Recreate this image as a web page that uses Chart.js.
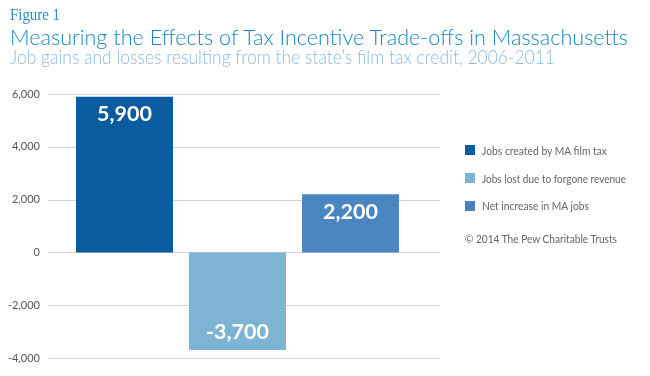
<!DOCTYPE html>
<html><head><meta charset="utf-8">
<script src="https://cdn.jsdelivr.net/npm/chart.js@4.4.0/dist/chart.umd.min.js"></script>
<style>
html,body{margin:0;padding:0;background:#fff;}
#wrap{position:relative;width:650px;height:376px;overflow:hidden;font-family:Lato,"Open Sans",sans-serif;}
canvas{position:absolute;left:0;top:0;}
.t{position:absolute;left:10px;white-space:nowrap;font-weight:300;transform-origin:0 0;line-height:1.2;}
#fig{top:6px;font-size:16.5px;color:#2a8cc4;font-family:"Liberation Serif","DejaVu Serif",serif;font-weight:400;line-height:1.1;}
#title{top:24px;font-size:22px;color:#1a87c2;}
#sub{top:45px;font-size:19.5px;color:#8cbbdc;}
.leg{position:absolute;left:465px;height:14px;display:flex;align-items:center;font-size:11px;color:#666;white-space:nowrap;}
.sw{display:block;width:10px;height:10px;margin-right:7px;flex:none;}
.lt{display:block;transform-origin:0 50%;}
</style></head>
<body><div id="wrap">
<canvas id="c" width="650" height="376"></canvas>
<div class="t" id="fig">Figure 1</div>
<div class="t" id="title">Measuring the Effects of Tax Incentive Trade-offs in Massachusetts</div>
<div class="t" id="sub">Job gains and losses resulting from the state’s film tax credit, 2006-2011</div>
<div id="legend"></div>
</div>
<script>
const categories = ['Jobs created by MA film tax', 'Jobs lost due to forgone revenue', 'Net increase in MA jobs'];
const values = [5900, -3700, 2200];
const valueLabels = ['5,900', '-3,700', '2,200'];
const yTicks = [-4000, -2000, 0, 2000, 4000, 6000];
const copyright = '© 2014 The Pew Charitable Trusts';

function fitWidth(el, w) {
  const r = el.getBoundingClientRect().width;
  if (r > 0) el.style.transform = 'scaleX(' + (w / r) + ')';
}

function hatch() {
  const p = document.createElement('canvas');
  p.width = 4; p.height = 4;
  const g = p.getContext('2d');
  g.fillStyle = '#4682bf'; g.fillRect(0,0,4,4);
  g.strokeStyle = '#5690c8'; g.lineWidth = 1;
  g.beginPath(); g.moveTo(0,4); g.lineTo(4,0); g.stroke();
  g.beginPath(); g.moveTo(-1,1); g.lineTo(1,-1); g.stroke();
  g.beginPath(); g.moveTo(3,5); g.lineTo(5,3); g.stroke();
  return document.getElementById('c').getContext('2d').createPattern(p,'repeat');
}
const colors = ['#0a5b9f', '#7db3d3', hatch()];
const legendColors = ['#0a5b9f', '#7db3d3', '#4682bf'];

const leg = document.getElementById('legend');
const legTops = [143, 171, 198.5];
const legWidths = [125, 144, 107];
categories.forEach((c,i)=>{
  const d = document.createElement('div'); d.className='leg'; d.style.top = legTops[i]+'px';
  d.innerHTML = '<span class="sw" style="background:'+legendColors[i]+'"></span><span class="lt">'+c+'</span>';
  leg.appendChild(d);
  fitWidth(d.querySelector('.lt'), legWidths[i]);
});
const cp = document.createElement('div'); cp.className='leg'; cp.style.top='231px'; cp.style.fontSize='11.5px';
cp.innerHTML = '<span class="lt">'+copyright+'</span>'; leg.appendChild(cp);
fitWidth(cp.querySelector('.lt'), 152);

fitWidth(document.getElementById('fig'), 50);
fitWidth(document.getElementById('title'), 618);
fitWidth(document.getElementById('sub'), 545);

const gridPlugin = {
  id: 'extGrid',
  beforeDatasetsDraw(chart) {
    const ctx = chart.ctx, ca = chart.chartArea, ys = chart.scales.y;
    ctx.save();
    ctx.strokeStyle = '#d4d4d4'; ctx.lineWidth = 1;
    yTicks.forEach(v => {
      const y = Math.round(ys.getPixelForValue(v)) + 0.5;
      ctx.beginPath(); ctx.moveTo(ca.left - 20, y); ctx.lineTo(ca.right + 33, y); ctx.stroke();
    });
    ctx.restore();
  }
};

const labelPlugin = {
  id: 'vlabels',
  afterDatasetsDraw(chart) {
    const ctx = chart.ctx;
    ctx.save();
    ctx.fillStyle = '#fff';
    ctx.font = 'bold 21.5px Lato, "Open Sans", sans-serif';
    ctx.textAlign = 'center'; ctx.textBaseline = 'middle';
    chart.getDatasetMeta(0).data.forEach((el,i)=>{
      const y = values[i] >= 0 ? el.y + 17.5 : el.y - 18;
      ctx.fillText(valueLabels[i], el.x, y);
    });
    ctx.restore();
  }
};

new Chart(document.getElementById('c'), {
  type: 'bar',
  data: { labels: categories, datasets: [{
    data: values, backgroundColor: colors, borderWidth: 0,
    barPercentage: 0.858, categoryPercentage: 1
  }] },
  options: {
    responsive: false, animation: false,
    layout: { padding: { top: 94, bottom: 18, left: 0, right: 243 } },
    plugins: { legend: { display: false }, tooltip: { enabled: false } },
    scales: {
      x: { display: false },
      y: {
        min: -4000, max: 6000,
        afterFit(s) { s.width = 68; s.paddingTop = 0; s.paddingBottom = 0; },
        afterBuildTicks(s) { s.ticks = yTicks.map(v=>({value:v})); },
        border: { display: false },
        grid: { display: false, drawTicks: false },
        ticks: {
          padding: 28, color: '#555',
          font: { family: 'Lato, "Open Sans", sans-serif', size: 11 },
          callback: v => v.toLocaleString('en-US')
        }
      }
    }
  },
  plugins: [gridPlugin, labelPlugin]
});
</script>
</body></html>
